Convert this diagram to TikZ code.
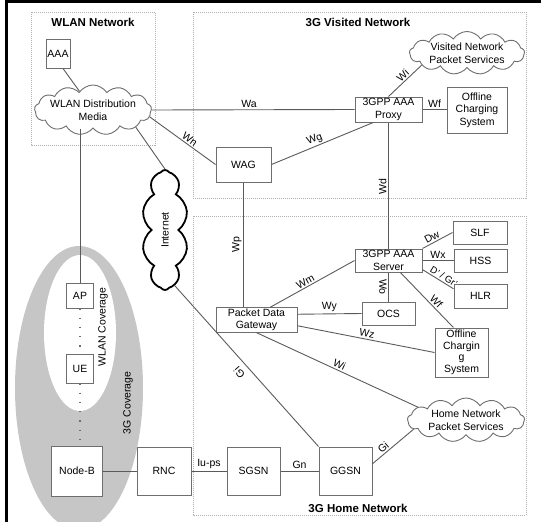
\documentclass[tikz,border=0pt]{standalone}
\usepackage{fontspec}
\setmainfont{Liberation Sans}
\usepackage{graphicx}
\usetikzlibrary{shapes.symbols, calc}

\definecolor{linegray}{HTML}{5A5A5A}
\definecolor{boxgray}{HTML}{6E6E6E}
\definecolor{areagray}{HTML}{B0B0B0}
\definecolor{covergray}{HTML}{C6C6C6}

\tikzstyle{box}      = [rectangle, draw=boxgray, line width=1pt, fill=white,
                        align=center, inner sep=1pt,
                        font=\fontsize{10.5}{12.5}\selectfont]
\tikzstyle{netcloud} = [cloud, cloud puffs=13, cloud puff arc=115,
                        cloud ignores aspect, draw=boxgray, line width=0.9pt,
                        fill=white, inner sep=0pt]
\tikzstyle{cloudtxt} = [align=center, inner sep=0pt,
                        font=\fontsize{10.5}{12.5}\selectfont]
\tikzstyle{area}     = [draw=areagray, line width=0.8pt,
                        dash pattern=on 1pt off 1pt]
\tikzstyle{title}    = [font=\fontsize{11.5}{13}\selectfont\bfseries]
\tikzstyle{link}     = [draw=linegray, line width=0.9pt]
\tikzstyle{lbl}      = [font=\fontsize{10.5}{12}\selectfont, inner sep=1.5pt]
\tikzstyle{radio}    = [draw=boxgray, line width=1.2pt,
                        dash pattern=on 1.2pt off 8pt]

\begin{document}
\begin{tikzpicture}[x=1pt, y=-1pt]

  \useasboundingbox (0,0) rectangle (541,522);

  %% Frame edges
  \draw[line width=3pt] (5,1.5) -- (541,1.5);
  \draw[line width=2.5pt] (6.5,0) -- (6.5,522);

  %% ── Coverage areas ────────────────────────────────────────────
  \fill[covergray] (79,388) ellipse [x radius=64, y radius=142];
  \fill[white] (80,333) ellipse [x radius=36, y radius=78];
  \node[lbl, rotate=90] (wlancov) at (103,327) {WLAN Coverage};
  \node[lbl, rotate=90] (cov3g) at (128,403) {3G Coverage};

  %% ── Network areas ─────────────────────────────────────────────
  \draw[area] (31,12) rectangle (155,145);
  \draw[area] (193,12) rectangle (526,198);
  \draw[area] (193,216) rectangle (526,515);
  \node[title] (wlantitle) at (93,22) {WLAN Network};
  \node[title] (vistitle) at (358,22) {3G Visited Network};
  \node[title] (hometitle) at (358,508) {3G Home Network};

  %% ── Clouds ────────────────────────────────────────────────────
  \node[netcloud, minimum width=117, minimum height=50] (wdm) at (93,110) {};
  \node[cloudtxt] at (wdm) {WLAN Distribution\\Media};
  \node[netcloud, minimum width=115, minimum height=43] (vnps) at (467,53) {};
  \node[cloudtxt] at (vnps) {Visited Network\\Packet Services};
  \node[netcloud, minimum width=117, minimum height=44] (hnps) at (466,420) {};
  \node[cloudtxt] at (hnps) {Home Network\\Packet Services};
  \node[netcloud, cloud puffs=10, draw=black, line width=1.8pt,
        minimum width=46, minimum height=120] (inet) at (165,230) {};
  \node[cloudtxt] at (inet) {\rotatebox{90}{Internet}};

  %% ── WLAN side ─────────────────────────────────────────────────
  \node[box, minimum width=24, minimum height=29] (aaa) at (58,53.5) {AAA};
  \node[box, minimum width=27, minimum height=25] (ap) at (80,295.5) {AP};
  \node[box, minimum width=27, minimum height=29] (ue) at (80,368.5) {UE};
  \node[box, minimum width=51, minimum height=50] (nodeb) at (77,471) {Node-B};

  %% ── Visited network ───────────────────────────────────────────
  \node[box, minimum width=55, minimum height=35] (wag) at (243.5,164.5) {WAG};
  \node[box, minimum width=67, minimum height=25] (proxy) at (388.5,109.5)
      {3GPP AAA\\Proxy};
  \node[box, minimum width=60, minimum height=46] (vocs) at (477,110)
      {Offline\\Charging\\System};

  %% ── Home network ──────────────────────────────────────────────
  \node[box, minimum width=67, minimum height=23] (server) at (388.5,260.5)
      {3GPP AAA\\Server};
  \node[box, minimum width=54, minimum height=23] (slf) at (480,232.5) {SLF};
  \node[box, minimum width=53, minimum height=23] (hss) at (480.5,260.5) {HSS};
  \node[box, minimum width=53, minimum height=24] (hlr) at (480.5,296) {HLR};
  \node[box, minimum width=53, minimum height=23] (ocs) at (388.5,313.5) {OCS};
  \node[box, minimum width=81, minimum height=24] (pdg) at (256.5,320)
      {Packet Data\\Gateway};
  \node[box, minimum width=53, minimum height=49,
        font=\fontsize{10.5}{11.5}\selectfont] (hocs) at (461.5,352.5)
      {Offline\\Chargin\\g\\System};
  \node[box, minimum width=54, minimum height=48] (rnc) at (164,471) {RNC};
  \node[box, minimum width=53, minimum height=48] (sgsn) at (253.5,471) {SGSN};
  \node[box, minimum width=53, minimum height=48] (ggsn) at (345.5,471) {GGSN};

  %% ── Connectors ────────────────────────────────────────────────
  \draw[link] ($(aaa.south)+(5,0)$) -- (wdm);
  \draw[link] (wdm.east) -- node[lbl, above, pos=0.48] {Wa} (proxy.west);
  \draw[link] (wdm.-7) -- node[lbl, above, sloped, pos=0.56] {Wn} (wag.west);
  \draw[link] (wdm.-22) -- (inet.north);
  \draw[link] (ap.north |- wdm.south) -- (ap.north);
  \draw[radio] (ap.south) -- (ue.north);
  \draw[radio] (ue.south) -- (ue.south |- nodeb.north);
  \draw[link] (nodeb) -- (rnc);
  \draw[link] (rnc) -- node[lbl, above] {Iu-ps} (sgsn);
  \draw[link] (sgsn) -- node[lbl, above] {Gn} (ggsn);
  \draw[link] (ggsn.north west) -- node[lbl, sloped, allow upside down,
        above=4pt, pos=0.5] {Gi} (inet.-80);
  \draw[link] (ggsn.15) -- node[lbl, above, sloped, pos=0.35] {Gi} (hnps.190);

  \draw[link] (pdg.north -| wag.south) -- node[lbl, above, sloped, pos=0.5] {Wp}
      (wag.south);
  \draw[link] (wag.east) -- node[lbl, above, sloped, pos=0.45] {Wg}
      ($(proxy.south)!0.45!(proxy.south west)$);
  \draw[link] (proxy.north) -- node[lbl, above, sloped, pos=0.55] {Wi} (vnps.195);
  \draw[link] (proxy.east) -- node[lbl, above] {Wf} (proxy.east -| vocs.west);
  \draw[link] (server.north) -- node[lbl, above, sloped, pos=0.49] {Wd}
      (proxy.south);

  \draw[link] (server.north east) -- node[lbl, above, sloped, pos=0.4] {Dw}
      (slf.west);
  \draw[link] (server.east) -- node[lbl, above] {Wx} (hss.west);
  \draw[link] (server.-15) -- node[lbl, above, sloped, pos=0.6,
        font=\fontsize{9.5}{11}\selectfont] {D' / Gr'} (hlr.165);
  \draw[link] ($(server.south)!0.35!(server.south east)$) --
      node[lbl, above, sloped, pos=0.6] {Wf}
      ($(hocs.north)!0.3!(hocs.north west)$);
  \draw[link] (server.south) -- node[lbl, below, sloped, pos=0.5] {Wo}
      (ocs.north);
  \draw[link] ($(pdg.north)!0.33!(pdg.north east)$) --
      node[lbl, above, sloped, pos=0.45] {Wm} (server.west);
  \draw[link] (pdg.8) -- node[lbl, above, sloped, pos=0.5] {Wy} (ocs.west);
  \draw[link] (pdg.-8) -- node[lbl, above, sloped, pos=0.5] {Wz} (hocs.west);
  \draw[link] (pdg.south) -- node[lbl, above, sloped, pos=0.5] {Wi} (hnps.165);

\end{tikzpicture}
\end{document}
